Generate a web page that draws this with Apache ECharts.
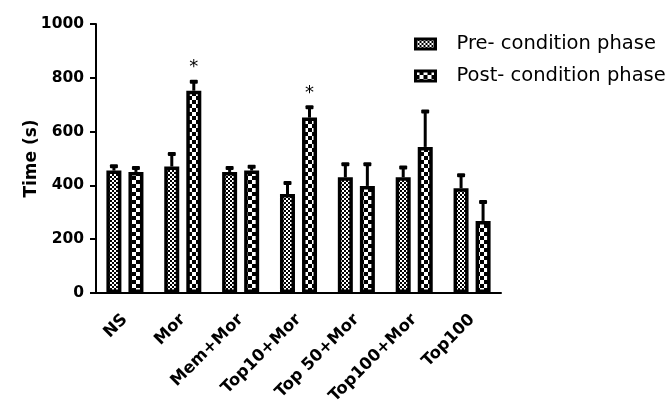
<!DOCTYPE html>
<html>
<head>
<meta charset="utf-8">
<script src="https://cdn.jsdelivr.net/npm/echarts@6/dist/echarts.min.js"></script>
<style>
  html, body { margin: 0; padding: 0; background: #fff; }
  #chart { width: 667px; height: 400px; }
</style>
</head>
<body>
<div id="chart"></div>
<script>
// 数据
var categories = ['NS', 'Mor', 'Mem+Mor', 'Top10+Mor', 'Top 50+Mor', 'Top100+Mor', 'Top100'];
var preValues = [455, 470, 450, 368, 430, 430, 389];
var preErrors = [20, 50, 18, 45, 52, 40, 52];
var postValues = [450, 752, 455, 652, 398, 543, 268];
var postErrors = [18, 37, 18, 42, 84, 135, 74];
var postStars = [false, true, false, true, false, false, false];
var yTicks = [0, 200, 400, 600, 800, 1000];
var seriesNames = ['Pre- condition phase', 'Post- condition phase'];

// 格子图案
function makePattern(size, cell) {
    var c = document.createElement('canvas');
    c.width = size;
    c.height = size;
    var ctx = c.getContext('2d');
    ctx.fillStyle = '#000';
    ctx.fillRect(0, 0, size, size);
    ctx.fillStyle = '#fff';
    ctx.fillRect(0, 0, cell, cell);
    ctx.fillRect(cell, cell, cell, cell);
    return c;
}
var prePattern = { image: makePattern(4, 2), repeat: 'repeat' };
var postPattern = { image: makePattern(8, 4), repeat: 'repeat' };

var FONT = 'DejaVu Sans';
var BAR_W = 15;
var OFFSET = 11;

// 误差线数据: [类别, 值, 误差, 偏移方向, 星号]
var errData = [];
categories.forEach(function (c, i) {
    errData.push([i, preValues[i], preErrors[i], -1, 0]);
    errData.push([i, postValues[i], postErrors[i], 1, postStars[i] ? 1 : 0]);
});

function renderError(params, api) {
    var idx = api.value(0);
    var val = api.value(1);
    var err = api.value(2);
    var dir = api.value(3);
    var star = api.value(4);
    var base = api.coord([idx, val]);
    var top = api.coord([idx, val + err]);
    var x = base[0] + dir * OFFSET;
    var children = [
        { type: 'rect', shape: { x: x - 1.5, y: top[1], width: 3, height: base[1] - top[1] }, style: { fill: '#000' } },
        { type: 'rect', shape: { x: x - 4, y: top[1] - 1, width: 8, height: 4, r: 1 }, style: { fill: '#000' } }
    ];
    if (star) {
        children.push({
            type: 'text',
            style: { text: '*', x: x, y: top[1] - 4, align: 'center', verticalAlign: 'bottom', font: '18px ' + FONT, fill: '#000' }
        });
    }
    return { type: 'group', children: children };
}

var chart = echarts.init(document.getElementById('chart'));
var option = {
    backgroundColor: '#fff',
    animation: false,
    grid: { left: 96, right: 166, top: 24, bottom: 107, outerBoundsMode: 'none' },
    legend: {
        orient: 'vertical',
        left: 409,
        top: 29,
        itemWidth: 20,
        itemHeight: 10,
        itemGap: 12,
        icon: 'rect',
        textStyle: { fontFamily: FONT, fontSize: 19.5, color: '#000', padding: [0, 0, 0, 16] },
        data: [
            { name: seriesNames[0], itemStyle: { color: prePattern, borderColor: '#000', borderWidth: 3 } },
            { name: seriesNames[1], itemStyle: { color: postPattern, borderColor: '#000', borderWidth: 3 } }
        ]
    },
    xAxis: {
        type: 'category',
        data: categories,
        axisLine: { lineStyle: { color: '#000', width: 2 } },
        axisTick: { show: false },
        axisLabel: {
            interval: 0,
            rotate: 45,
            margin: 24,
            color: '#000',
            fontFamily: FONT,
            fontWeight: 'bold',
            fontSize: 16.5
        }
    },
    yAxis: {
        type: 'value',
        min: 0,
        max: 1000,
        interval: 200,
        name: 'Time (s)',
        nameLocation: 'middle',
        nameGap: 56,
        nameMoveOverlap: false,
        nameTextStyle: { fontFamily: FONT, fontWeight: 'bold', fontSize: 17, color: '#000' },
        axisLine: { show: true, lineStyle: { color: '#000', width: 2 } },
        axisTick: { show: true, length: 6, lineStyle: { color: '#000', width: 2 } },
        splitLine: { show: false },
        axisLabel: {
            margin: 12,
            color: '#000',
            fontFamily: FONT,
            fontWeight: 'bold',
            fontSize: 15.5,
            formatter: function (v) { return yTicks.indexOf(v) >= 0 ? String(v) : ''; }
        }
    },
    series: [
        {
            name: seriesNames[0],
            type: 'bar',
            data: preValues,
            barWidth: BAR_W,
            barGap: '47%',
            itemStyle: { color: prePattern, borderColor: '#000', borderWidth: 3.5 }
        },
        {
            name: seriesNames[1],
            type: 'bar',
            data: postValues,
            barWidth: BAR_W,
            barGap: '47%',
            itemStyle: { color: postPattern, borderColor: '#000', borderWidth: 3.5 }
        },
        {
            type: 'custom',
            renderItem: renderError,
            data: errData,
            z: 10,
            silent: true
        }
    ]
};
chart.setOption(option);
</script>
</body>
</html>
